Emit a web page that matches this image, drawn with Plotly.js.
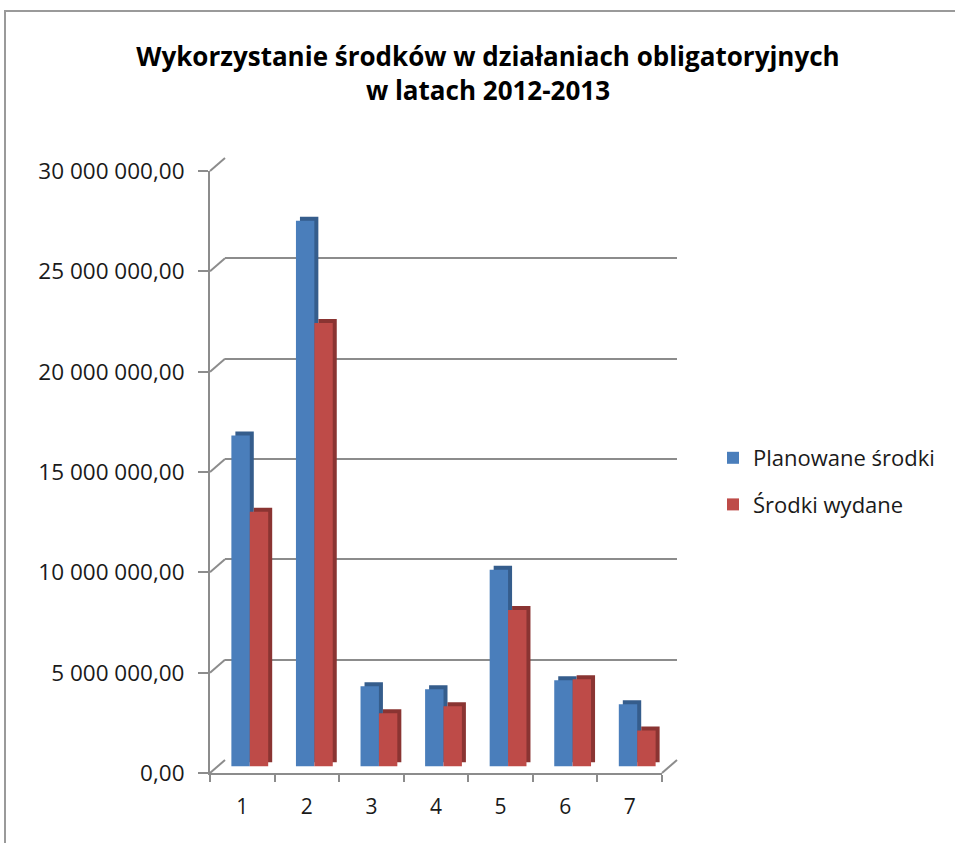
<!DOCTYPE html>
<html>
<head>
<meta charset="utf-8">
<script src="https://cdn.plot.ly/plotly-3.0.1.min.js"></script>
<style>
  html, body { margin: 0; padding: 0; background: #fff; }
  #chart { width: 955px; height: 843px; }
  #frame { position: absolute; left: 4px; top: 10px; width: 960px; height: 840px;
           border-left: 2px solid #9a9a9a; border-top: 2px solid #9a9a9a; pointer-events: none; }
</style>
</head>
<body>
<div id="chart"></div>
<div id="frame"></div>
<script>
// ---- data ----
const categories = ['1', '2', '3', '4', '5', '6', '7'];
const planned = [16.5e6, 27.2e6, 4.0e6, 3.85e6, 9.8e6, 4.3e6, 3.1e6];
const spent   = [12.7e6, 22.1e6, 2.65e6, 3.0e6, 7.8e6, 4.35e6, 1.8e6];
const seriesNames = ['Planowane środki', 'Środki wydane'];
const yTicks = [0, 5e6, 10e6, 15e6, 20e6, 25e6, 30e6];
const titleText = 'Wykorzystanie środków w działaniach obligatoryjnych<br>w latach 2012-2013';

// ---- styling / geometry ----
const W = 955, H = 843;
const FONT = '"Open Sans", Carlito, Lato, sans-serif';
const frontColors = ['#4a7ebb', '#be4b48'];
const sideColors = ['#355d8c', '#8a3432'];
const gridColor = '#8c8c8c';
const yMax = 30e6;

function xd(l, r) { return [l / W, r / W]; }
function yd(b, t) { return [(H - b) / H, (H - t) / H]; }

// front plane, back wall, bar plane, bar-shadow plane (pixel boxes)
const front = { l: 210, r: 662, b: 773, t: 171 };
const depth = { dx: 15, dy: -13 };
const back = { l: front.l + depth.dx, r: front.r + depth.dx, b: front.b + depth.dy, t: front.t + depth.dy };
const mid = { l: front.l + depth.dx / 2, r: front.r + depth.dx / 2, b: front.b + depth.dy / 2, t: front.t + depth.dy / 2 };
const sh = { dx: 4, dy: -4 };
const shadow = { l: mid.l + sh.dx, r: mid.r + sh.dx, b: mid.b + sh.dy, t: mid.t + sh.dy };

const catAxis = { type: 'category', range: [-0.5, categories.length - 0.5], showgrid: false,
                  zeroline: false, showline: false, showticklabels: false, ticks: '', fixedrange: true };
const valAxis = { range: [0, yMax], showgrid: false, zeroline: false, showline: false,
                  showticklabels: false, ticks: '', fixedrange: true };

const traces = [];
// back wall (grid holder)
traces.push({ type: 'scatter', mode: 'markers', x: categories, y: planned, xaxis: 'x', yaxis: 'y',
              marker: { opacity: 0 }, hoverinfo: 'skip', showlegend: false });
// shadow (side/top faces)
[planned, spent].forEach((vals, i) => {
  traces.push({ type: 'bar', x: categories, y: vals, xaxis: 'x2', yaxis: 'y2',
                marker: { color: sideColors[i], line: { width: 0 } }, hoverinfo: 'skip', showlegend: false });
});
// front faces
[planned, spent].forEach((vals, i) => {
  traces.push({ type: 'bar', name: seriesNames[i], x: categories, y: vals, xaxis: 'x3', yaxis: 'y3',
                legendgroup: 'g' + i,
                marker: { color: frontColors[i], line: { width: 0 } }, hoverinfo: 'skip' });
});
// front axis holder
traces.push({ type: 'scatter', mode: 'markers', x: categories, y: spent, xaxis: 'x4', yaxis: 'y4',
              marker: { opacity: 0 }, hoverinfo: 'skip', showlegend: false });

// diagonal connectors between front axis and back wall
const shapes = [];
function fy(box, v) { const d = yd(box.b, box.t); return d[0] + (v / yMax) * (d[1] - d[0]); }
yTicks.forEach(v => {
  shapes.push({ type: 'line', xref: 'paper', yref: 'paper', x0: front.l / W, x1: back.l / W,
                y0: fy(front, v), y1: fy(back, v), line: { color: gridColor, width: 2 } });
});
shapes.push({ type: 'line', xref: 'paper', yref: 'paper', x0: front.r / W, x1: back.r / W,
              y0: fy(front, 0), y1: fy(back, 0), line: { color: gridColor, width: 2 } });

const layout = {
  width: W, height: H,
  margin: { l: 0, r: 0, t: 0, b: 0 },
  paper_bgcolor: '#ffffff',
  plot_bgcolor: 'rgba(0,0,0,0)',
  separators: ', ',
  font: { family: FONT, color: '#1a1a1a' },
  title: { text: titleText, x: 488 / W, xanchor: 'center', yref: 'container', y: 1 - 66 / H, yanchor: 'top',
           font: { family: FONT, size: 26, weight: 'bold', color: '#000' } },
  barmode: 'group', bargap: 0.43, bargroupgap: 0,
  showlegend: true,
  legend: { x: 713 / W, xanchor: 'left', y: 1 - 437 / H, yanchor: 'top', traceorder: 'grouped',
            tracegroupgap: 15, font: { family: FONT, size: 22, color: '#1a1a1a' }, bgcolor: 'rgba(0,0,0,0)' },
  xaxis: Object.assign({}, catAxis, { domain: xd(back.l, back.r), anchor: 'y' }),
  yaxis: Object.assign({}, valAxis, { domain: yd(back.b, back.t), anchor: 'x', showgrid: true,
           gridcolor: gridColor, gridwidth: 2, tickvals: yTicks }),
  xaxis2: Object.assign({}, catAxis, { domain: xd(shadow.l, shadow.r), anchor: 'y2' }),
  yaxis2: Object.assign({}, valAxis, { domain: yd(shadow.b, shadow.t), anchor: 'x2' }),
  xaxis3: Object.assign({}, catAxis, { domain: xd(mid.l, mid.r), anchor: 'y3' }),
  yaxis3: Object.assign({}, valAxis, { domain: yd(mid.b, mid.t), anchor: 'x3' }),
  xaxis4: Object.assign({}, catAxis, { domain: xd(front.l, front.r), anchor: 'y4',
           showline: true, linecolor: gridColor, linewidth: 2, ticks: 'outside', tickson: 'boundaries',
           ticklen: 7, tickwidth: 2, tickcolor: gridColor, showticklabels: true, ticklabelstandoff: 14,
           tickfont: { family: FONT, size: 21, color: '#1a1a1a' } }),
  yaxis4: Object.assign({}, valAxis, { domain: yd(front.b, front.t), anchor: 'x4',
           showline: true, linecolor: gridColor, linewidth: 2, ticks: 'outside', ticklen: 10,
           tickwidth: 2, tickcolor: gridColor, tickvals: yTicks, tickformat: ',.2f', showticklabels: true,
           ticklabelstandoff: 9,
           tickfont: { family: FONT, size: 22.5, color: '#1a1a1a' } }),
  shapes: shapes,
  hovermode: false
};

Plotly.newPlot('chart', traces, layout, { staticPlot: true, displayModeBar: false });
</script>
</body>
</html>
